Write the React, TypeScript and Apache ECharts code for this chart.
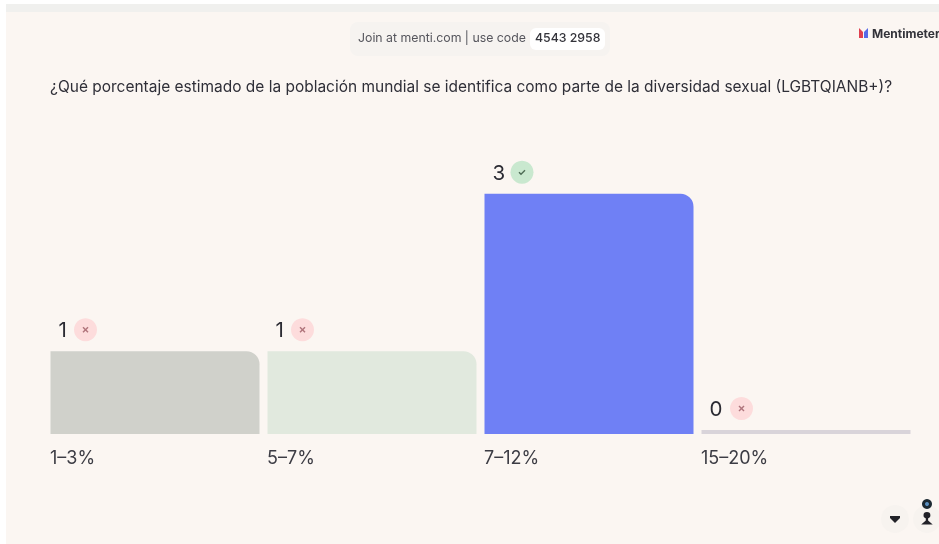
import React, { useEffect, useRef } from "react";
import * as echarts from "echarts";

const categories = ["1–3%", "5–7%", "7–12%", "15–20%"];
const votes = [1, 1, 3, 0];
const correct = [false, false, true, false];
const barColors = ["#d0d1cb", "#e1e9de", "#6f80f5", "#d9d4da"];
const questionText = "¿Qué porcentaje estimado de la población mundial se identifica como parte de la diversidad sexual (LGBTQIANB+)?";
const joinText = "Join at menti.com | use code";
const joinCode = "4543 2958";
const brandName = "Mentimeter";

const FONT = "Inter, sans-serif";
const INK = "#2b2b33";
const badgeOffset: Record<number, number> = { 0: 40, 1: 35, 3: 37.5 };

echarts.graphic.registerShape("personIcon", echarts.graphic.extendPath(
  "M3 0 A3 3 0 1 1 3 6 A3 3 0 1 1 3 0 Z M2 6 L4 6 L4 8 L8 12 L-2 12 L2 8 Z", {}) as any);

function renderBar(params: any, api: any) {
  const i = api.value(0);
  const v = api.value(1);
  const band = api.size([1, 0])[0];
  const barW = band - 8;
  const left = api.coord([i, 0])[0] - barW / 2 + 0.5;
  const floorY = params.coordSys.y + params.coordSys.height;
  const topY = api.coord([i, v])[1];
  const cy = topY - 21.5;
  const cx = left + badgeOffset[v];
  const ok = correct[i];
  const iconColor = ok ? "#4d6b55" : "#b0757c";
  const icon = ok
    ? [{ type: "polyline", shape: { points: [[cx - 3, cy], [cx - 1, cy + 2], [cx + 3, cy - 2]] }, style: { stroke: iconColor, lineWidth: 1.4, fill: "none" } }]
    : [
        { type: "line", shape: { x1: cx - 2.5, y1: cy - 2.5, x2: cx + 2.5, y2: cy + 2.5 }, style: { stroke: iconColor, lineWidth: 1.4 } },
        { type: "line", shape: { x1: cx + 2.5, y1: cy - 2.5, x2: cx - 2.5, y2: cy + 2.5 }, style: { stroke: iconColor, lineWidth: 1.4 } },
      ];
  return {
    type: "group",
    children: [
      {
        type: "rect",
        shape: { x: left, y: topY, width: barW, height: floorY - topY, r: v > 0 ? [0, 13, 0, 0] : 0 },
        style: { fill: barColors[i] },
      },
      {
        type: "text",
        style: { x: left + 8, y: cy, text: String(v), fill: INK, font: `400 20.5px ${FONT}`, textAlign: "left", textVerticalAlign: "middle" },
      },
      { type: "circle", shape: { cx, cy, r: 11.5 }, style: { fill: ok ? "#c9e8cf" : "#fddcdc" } },
      ...icon,
    ],
  };
}

export default function App() {
  const ref = useRef<HTMLDivElement>(null);
  useEffect(() => {
    const chart = echarts.init(ref.current!, undefined, { renderer: "svg" });
    chart.setOption({
      animation: false,
      backgroundColor: "#ffffff",
      grid: { left: 46, right: 25, top: 100, bottom: 110 },
      xAxis: {
        type: "category",
        data: categories,
        axisLine: { show: false },
        axisTick: { show: false },
        axisLabel: {
          margin: 14,
          formatter: (s: string) => `{a|${s}}`,
          rich: { a: { width: 209, align: "left", fontFamily: FONT, fontSize: 18, color: "#3c3c44" } },
        },
      },
      yAxis: { type: "value", min: -0.05, max: 4.19, show: false, splitLine: { show: false } },
      graphic: [
        { type: "rect", z: -10, shape: { x: 6, y: 4, width: 933, height: 8 }, style: { fill: "#f0f0ee" } },
        { type: "rect", z: -10, shape: { x: 6, y: 12, width: 933, height: 532 }, style: { fill: "#fbf6f2" } },
        { type: "rect", z: -9, shape: { x: 350, y: 22, width: 260, height: 34, r: 8 }, style: { fill: "#f6f3f0" } },
        { type: "rect", z: -8, shape: { x: 530, y: 28, width: 75, height: 22, r: 6 }, style: { fill: "#ffffff" } },
        { type: "text", style: { x: 358, y: 37, text: joinText, fill: "#55555c", font: `400 12.3px ${FONT}`, textVerticalAlign: "middle" } },
        { type: "text", style: { x: 535, y: 37, text: joinCode, fill: "#33333a", font: `500 12.3px ${FONT}`, textVerticalAlign: "middle" } },
        { type: "polygon", shape: { points: [[859, 28], [863, 32], [863, 38], [859, 38]] }, style: { fill: "#e0404f" } },
        { type: "polygon", shape: { points: [[868, 28], [864, 32], [864, 38], [868, 38]] }, style: { fill: "#5769e7" } },
        { type: "text", style: { x: 872, y: 33, text: brandName, fill: "#33333a", font: `700 12px ${FONT}`, textVerticalAlign: "middle" } },
        { type: "text", style: { x: 50, y: 86, text: questionText, fill: "#2f2f38", font: `400 15.47px ${FONT}`, textVerticalAlign: "middle" } },
        { type: "circle", shape: { cx: 895, cy: 519, r: 14 }, style: { fill: "#f7f3ef" } },
        { type: "polygon", shape: { points: [[890, 516], [900, 516], [900, 518], [895, 523], [890, 518]] }, style: { fill: "#222228" } },
        { type: "circle", shape: { cx: 927, cy: 519, r: 14 }, style: { fill: "#f7f3ef" } },
        { type: "circle", shape: { cx: 927, cy: 504, r: 5 }, style: { fill: "#1d2a33" } },
        { type: "circle", shape: { cx: 927, cy: 504, r: 2 }, style: { fill: "#5a8fc0" } },
        { type: "personIcon", x: 923.5, y: 512, scaleX: 1.15, scaleY: 1.05, style: { fill: "#222228" } },
      ],
      series: [
        {
          type: "custom",
          renderItem: renderBar,
          encode: { x: 0, y: 1 },
          data: votes.map((v, i) => [i, v]),
        },
      ],
    });
    return () => chart.dispose();
  }, []);
  return (
    <div
      ref={ref}
      style={{ position: "absolute", left: 0, top: 0, width: 939, height: 544, filter: "blur(0.5px)" }}
    />
  );
}
